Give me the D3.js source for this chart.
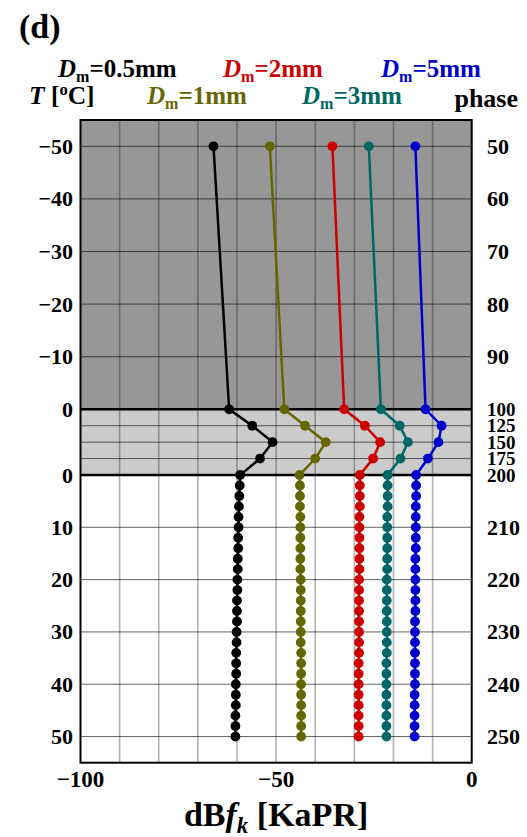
<!DOCTYPE html>
<html>
<head>
<meta charset="utf-8">
<script src="https://cdn.jsdelivr.net/npm/d3@7"></script>
<style>
  body { margin: 0; background: #fff; }
  svg text { font-family: "Liberation Serif", "DejaVu Serif", serif; font-weight: bold; }
</style>
</head>
<body>
<div id="chart"></div>
<script>
// phase index of every point (frozen 50-100, melting 100-200, liquid 200-250)
const phases = [50, 100, 125, 150, 175, 200,
  202, 204, 206, 208, 210, 212, 214, 216, 218, 220, 222, 224, 226,
  228, 230, 232, 234, 236, 238, 240, 242, 244, 246, 248, 250];

const dm05 = [-66.0, -62.0, -56.1, -50.9, -54.1, -59.2,
  -59.3, -59.4, -59.5, -59.6, -59.6, -59.7, -59.7, -59.8, -59.8, -59.9, -59.9, -60.0, -60.0,
  -60.0, -60.1, -60.1, -60.2, -60.2, -60.2, -60.3, -60.3, -60.3, -60.4, -60.4, -60.4];
const dm1 = [-51.6, -47.9, -42.6, -37.3, -40.0, -44.0,
  -43.9, -43.9, -43.9, -43.8, -43.8, -43.8, -43.8, -43.8, -43.8, -43.7, -43.7, -43.7, -43.7,
  -43.7, -43.7, -43.7, -43.6, -43.6, -43.6, -43.6, -43.6, -43.6, -43.6, -43.6, -43.6];
const dm2 = [-35.6, -32.6, -27.3, -23.4, -25.2, -28.6,
  -28.6, -28.6, -28.6, -28.7, -28.7, -28.7, -28.7, -28.7, -28.7, -28.8, -28.8, -28.8, -28.8,
  -28.8, -28.8, -28.8, -28.8, -28.9, -28.9, -28.9, -28.9, -28.9, -28.9, -28.9, -28.9];
const dm3 = [-26.3, -23.2, -18.4, -16.3, -18.2, -21.5,
  -21.5, -21.5, -21.5, -21.6, -21.6, -21.6, -21.6, -21.6, -21.6, -21.7, -21.7, -21.7, -21.7,
  -21.7, -21.7, -21.7, -21.7, -21.8, -21.8, -21.8, -21.8, -21.8, -21.8, -21.8, -21.8];
const dm5 = [-14.4, -11.8, -7.7, -8.5, -11.2, -14.2,
  -14.2, -14.2, -14.3, -14.3, -14.3, -14.3, -14.3, -14.4, -14.4, -14.4, -14.4, -14.4, -14.4,
  -14.5, -14.5, -14.5, -14.5, -14.5, -14.5, -14.5, -14.6, -14.6, -14.6, -14.6, -14.6];

const seriesLabels = ["0.5", "1", "2", "3", "5"];
const seriesValues = [dm05, dm1, dm2, dm3, dm5];
const seriesColors = ["#000000", "#666600", "#cc0000", "#006666", "#0000cc"];

const phaseTicks = [50, 60, 70, 80, 90, 100, 125, 150, 175, 200, 210, 220, 230, 240, 250];
const tempLabels = ["\u221250", "\u221240", "\u221230", "\u221220", "\u221210", "0", "", "", "", "0", "10", "20", "30", "40", "50"];
const xTicks = [-100, -50, 0];
const xGrid = [-90, -80, -70, -60, -50, -40, -30, -20, -10];

const W = 527, H = 837;
const pLeft = 80.5, pRight = 471.7, pTop = 120, pBottom = 762.7;

const svg = d3.select("#chart").append("svg")
  .attr("width", W).attr("height", H);

const x = d3.scaleLinear().domain([-100, 0]).range([pLeft, pRight]);
// piecewise: frozen T=-55..0, melting band, liquid T=0..55
const y = d3.scaleLinear().domain([45, 100, 200, 255]).range([pTop, 409.3, 475, pBottom]);

// region backgrounds
svg.append("rect").attr("x", pLeft).attr("y", pTop)
  .attr("width", pRight - pLeft).attr("height", y(100) - pTop).attr("fill", "#979797");
svg.append("rect").attr("x", pLeft).attr("y", y(100))
  .attr("width", pRight - pLeft).attr("height", y(200) - y(100)).attr("fill", "#cbcbcb");

// grid
svg.append("g").selectAll("line").data(xGrid).join("line")
  .attr("x1", d => x(d)).attr("x2", d => x(d))
  .attr("y1", pTop).attr("y2", pBottom)
  .attr("stroke", "rgba(0,0,0,0.3)").attr("stroke-width", 1.6);

svg.append("g").selectAll("line").data(phaseTicks.filter(d => d != 100 && d != 200)).join("line")
  .attr("x1", pLeft).attr("x2", pRight)
  .attr("y1", d => y(d)).attr("y2", d => y(d))
  .attr("stroke", "rgba(0,0,0,0.6)").attr("stroke-width", 1);

svg.append("g").selectAll("line").data([100, 200]).join("line")
  .attr("x1", pLeft).attr("x2", pRight)
  .attr("y1", d => y(d)).attr("y2", d => y(d))
  .attr("stroke", "#000").attr("stroke-width", 2.5);

svg.append("rect").attr("x", pLeft).attr("y", pTop)
  .attr("width", pRight - pLeft).attr("height", pBottom - pTop)
  .attr("fill", "none").attr("stroke", "#000").attr("stroke-width", 2);

// series
const line = d3.line().x(d => x(d[1])).y(d => y(d[0]));
seriesValues.forEach((vals, i) => {
  const pts = phases.map((p, j) => [p, vals[j]]);
  const g = svg.append("g");
  g.append("path").datum(pts)
    .attr("fill", "none").attr("stroke", seriesColors[i]).attr("stroke-width", 2.5)
    .attr("d", line);
  g.selectAll("circle").data(pts).join("circle")
    .attr("cx", d => x(d[1])).attr("cy", d => y(d[0])).attr("r", 4.9)
    .attr("fill", seriesColors[i]);
});

const cramped = d => d >= 100 && d <= 200;

// left (temperature) labels
svg.append("g").selectAll("text").data(phaseTicks).join("text")
  .attr("x", 73).attr("y", d => y(d) + 7.5)
  .attr("text-anchor", "end").attr("font-size", 22)
  .text((d, i) => tempLabels[i]);

// right (phase) labels
svg.append("g").selectAll("text").data(phaseTicks).join("text")
  .attr("x", 487).attr("y", d => y(d) + (cramped(d) ? 6.5 : 7.5))
  .attr("font-size", d => cramped(d) ? 19 : 22)
  .text(d => d);

// x tick labels
svg.append("g").selectAll("text").data(xTicks).join("text")
  .attr("x", d => x(d)).attr("y", 787)
  .attr("text-anchor", "middle").attr("font-size", 23)
  .text(d => d < 0 ? "\u2212" + Math.abs(d) : d);

// x title
const xt = svg.append("text").attr("x", (pLeft + pRight) / 2).attr("y", 826)
  .attr("text-anchor", "middle").attr("font-size", 34);
xt.append("tspan").text("dB");
xt.append("tspan").attr("font-style", "italic").text("f");
xt.append("tspan").attr("font-style", "italic").attr("font-size", 23).attr("dy", 7).text("k");
xt.append("tspan").attr("dy", -7).text(" [KaPR]");

// panel label
svg.append("text").attr("x", 19).attr("y", 38).attr("font-size", 34).text("(d)");

// legend
const legendPos = [[58, 77], [147, 104], [223, 77], [302, 104], [381, 77]];
seriesLabels.forEach((lab, i) => {
  const t = svg.append("text").attr("x", legendPos[i][0]).attr("y", legendPos[i][1])
    .attr("font-size", 25).attr("fill", seriesColors[i]);
  t.append("tspan").attr("font-style", "italic").text("D");
  t.append("tspan").attr("font-size", 16).attr("dy", 4.5).text("m");
  t.append("tspan").attr("dy", -4.5).text("=" + lab + "mm");
});

const tl = svg.append("text").attr("x", 29).attr("y", 104).attr("font-size", 25.5);
tl.append("tspan").attr("font-style", "italic").text("T");
tl.append("tspan").text(" [");
tl.append("tspan").attr("font-size", 16.5).attr("dy", -9).text("o");
tl.append("tspan").attr("dy", 9).text("C]");

svg.append("text").attr("x", 518).attr("y", 107).attr("text-anchor", "end")
  .attr("font-size", 26).text("phase");
</script>
</body>
</html>
